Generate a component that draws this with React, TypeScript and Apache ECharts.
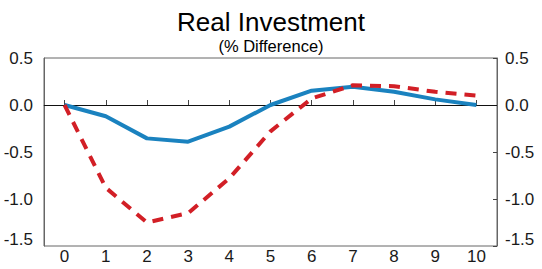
import React, { useEffect, useRef } from "react";
import * as echarts from "echarts";

const categories = ["0", "1", "2", "3", "4", "5", "6", "7", "8", "9", "10"];
const blueSeries = [0, -0.12, -0.355, -0.39, -0.23, 0.0, 0.152, 0.195, 0.14, 0.06, 0.0];
const redSeries = [0, -0.88, -1.25, -1.15, -0.78, -0.28, 0.07, 0.21, 0.2, 0.14, 0.1];
const yTicks = [0.5, 0.0, -0.5, -1.0, -1.5];

const FONT = "Liberation Sans, Arial, sans-serif";

export default function App() {
  const ref = useRef<HTMLDivElement>(null);
  useEffect(() => {
    if (!ref.current) return;
    const chart = echarts.init(ref.current, undefined, { renderer: "svg" });
    const fmt = (v: number) => {
      const s = v.toFixed(1);
      if (v === yTicks[yTicks.length - 1]) return "{low|" + s + "}";
      return s;
    };
    const labelStyle = {
      fontSize: 17,
      color: "#1a1a1a",
      fontFamily: FONT,
      formatter: fmt,
      rich: { low: { fontSize: 17, color: "#1a1a1a", fontFamily: FONT, padding: [0, 0, 14, 0] } },
    };
    chart.setOption({
      animation: false,
      title: [
        {
          text: "Real Investment",
          left: "center",
          top: 4,
          textStyle: { fontSize: 26, fontWeight: "normal", color: "#000", fontFamily: FONT },
        },
        {
          text: "(% Difference)",
          left: "center",
          top: 32,
          textStyle: { fontSize: 16.5, fontWeight: "normal", color: "#000", fontFamily: FONT },
        },
      ],
      grid: {
        left: 44,
        right: 45,
        top: 58,
        bottom: 23,
        show: true,
        borderColor: "#666",
        borderWidth: 1,
        containLabel: false,
      },
      xAxis: {
        type: "category",
        data: categories,
        boundaryGap: true,
        axisLine: { show: true, lineStyle: { color: "#666", width: 1 } },
        axisTick: { show: true, inside: true, alignWithLabel: true, length: 5, lineStyle: { color: "#444" } },
        axisLabel: { fontSize: 17, color: "#1a1a1a", fontFamily: FONT, margin: 2 },
        splitLine: { show: false },
      },
      yAxis: [
        {
          type: "value",
          min: -1.5,
          max: 0.5,
          interval: 0.5,
          position: "left",
          axisLine: { show: true, lineStyle: { color: "#666" } },
          axisTick: { show: false },
          splitLine: { show: false },
          axisLabel: { ...labelStyle, margin: 11 },
        },
        {
          type: "value",
          min: -1.5,
          max: 0.5,
          interval: 0.5,
          position: "right",
          axisLine: { show: true, lineStyle: { color: "#666" } },
          axisTick: { show: true, inside: true, length: 4, lineStyle: { color: "#444" } },
          splitLine: { show: false },
          axisLabel: { ...labelStyle, margin: 8 },
        },
      ],
      series: [
        {
          type: "line",
          data: redSeries,
          symbol: "none",
          lineStyle: { color: "#d21f26", width: 4, type: [11, 8] },
          z: 3,
        },
        {
          type: "line",
          data: blueSeries,
          symbol: "none",
          lineStyle: { color: "#1a82bf", width: 4 },
          z: 2,
          markLine: {
            silent: true,
            symbol: "none",
            label: { show: false },
            lineStyle: { color: "#111", width: 1, type: "solid" },
            data: [{ yAxis: 0 }],
            z: 1,
          },
        },
      ],
    });
    return () => chart.dispose();
  }, []);
  return (
    <div
      ref={ref}
      style={{ position: "absolute", left: 0, top: 0, width: 542, height: 269 }}
    />
  );
}
